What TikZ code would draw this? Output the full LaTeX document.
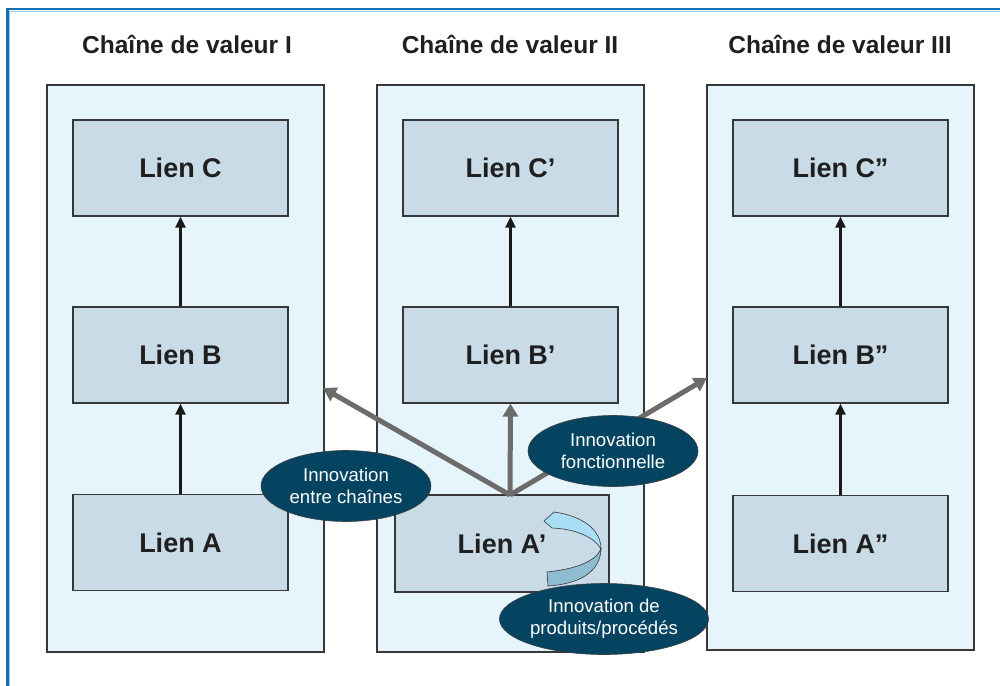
\documentclass[tikz,border=0pt]{standalone}
\usepackage{fontspec}
\setmainfont{Liberation Sans}
\usetikzlibrary{arrows.meta,shapes.geometric}
\definecolor{framblue}{RGB}{20,112,182}
\definecolor{framlight}{RGB}{150,200,235}
\definecolor{panelfill}{RGB}{230,245,252}
\definecolor{boxfill}{RGB}{200,219,230}
\definecolor{edgegray}{RGB}{55,55,55}
\definecolor{arrgray}{RGB}{108,108,108}
\definecolor{ovalfill}{RGB}{5,68,96}
\definecolor{ribbonlight}{RGB}{170,222,245}
\definecolor{ribbondark}{RGB}{143,188,208}
\begin{document}
\begin{tikzpicture}[x=1pt,y=-1pt,
  panelbox/.style={draw=edgegray, line width=1.4pt, fill=panelfill, inner sep=0pt, minimum height=567pt},
  linkbox/.style={draw=edgegray, line width=1.2pt, fill=boxfill, inner sep=0pt, minimum width=215pt, minimum height=96pt,
     font=\fontsize{27}{31}\selectfont\bfseries, text=black!88},
  coltitle/.style={anchor=base, font=\fontsize{24.5}{29}\selectfont\bfseries, text=black!88},
  thinarrow/.style={line width=2.3pt, black!90, -{Triangle[length=11pt,width=10pt]}},
  thickarrow/.style={line width=5pt, arrgray, -{Triangle[length=13pt,width=15pt]}},
  oval/.style={ellipse, draw=black!75, line width=0.6pt, fill=ovalfill, text=white, inner sep=0pt,
     minimum width=170pt, minimum height=71pt, align=center, font=\fontsize{18.6}{22}\selectfont}
]
\useasboundingbox (0,0) rectangle (1000,685);
% outer frame
\draw[framblue, line width=2.5pt] (7.25,700) -- (7.25,9.25) -- (1010,9.25);
\draw[framlight, line width=0.8pt] (9.2,700) -- (9.2,11.2) -- (1010,11.2);

% titles
\node[coltitle] (t1) at (187,53) {Chaîne de valeur I};
\node[coltitle] (t2) at (510,53) {Chaîne de valeur II};
\node[coltitle] (t3) at (840,53) {Chaîne de valeur III};

% panels
\node[panelbox, minimum width=277pt] (p1) at (185.5,368.5) {};
\node[panelbox, minimum width=267pt] (p2) at (510.5,368.5) {};
\node[panelbox, minimum width=267pt, minimum height=565pt] (p3) at (840.5,367.5) {};

% link boxes
\node[linkbox] (c1) at (180.5,168) {Lien C};
\node[linkbox] (b1) at (180.5,355) {Lien B};
\node[linkbox] (a1) at (180.5,542.5) {Lien A};

\node[linkbox] (c2) at (510.5,168) {Lien C’};
\node[linkbox] (b2) at (510.5,355) {Lien B’};
\node[linkbox, minimum width=214pt, minimum height=97pt] (a2) at (502,543.5) {Lien A’};

\node[linkbox] (c3) at (840.5,168) {Lien C”};
\node[linkbox] (b3) at (840.5,355) {Lien B”};
\node[linkbox] (a3) at (840.5,543.5) {Lien A”};

% thin arrows
\draw[thinarrow] (a1.north) -- (b1.south);
\draw[thinarrow] (b1.north) -- (c1.south);
\draw[thinarrow] (b2.north) -- (c2.south);
\draw[thinarrow] (a3.north) -- (b3.south);
\draw[thinarrow] (b3.north) -- (c3.south);

% thick gray arrows
\coordinate (src) at (510,495);
\coordinate (tleft) at (323,388);
\coordinate (tright) at (707,378);
\draw[thickarrow] (src) -- (tleft);
\draw[thickarrow] (src) -- (b2.south);
\draw[thickarrow] (src) -- (tright);

% ribbon
\draw[edgegray, line width=0.6pt, fill=ribbondark]
  (601,549) .. controls (600,573) and (578,584) .. (548,586)
  -- (547,572) .. controls (575,569) and (595,562) .. (601,549) -- cycle;
\draw[edgegray, line width=0.6pt, fill=ribbonlight]
  (544,521) -- (554,512) .. controls (583,516) and (601,530) .. (601,549)
  .. controls (594,537) and (576,529) .. (552,528) -- cycle;

% ovals
\node[oval] (o1) at (346,486) {Innovation\\entre chaînes};
\node[oval] (o2) at (613,451) {Innovation\\fonctionnelle};
\node[oval] (o3) at (604,619) {Innovation de\\produits/procédés};
\end{tikzpicture}
\end{document}
